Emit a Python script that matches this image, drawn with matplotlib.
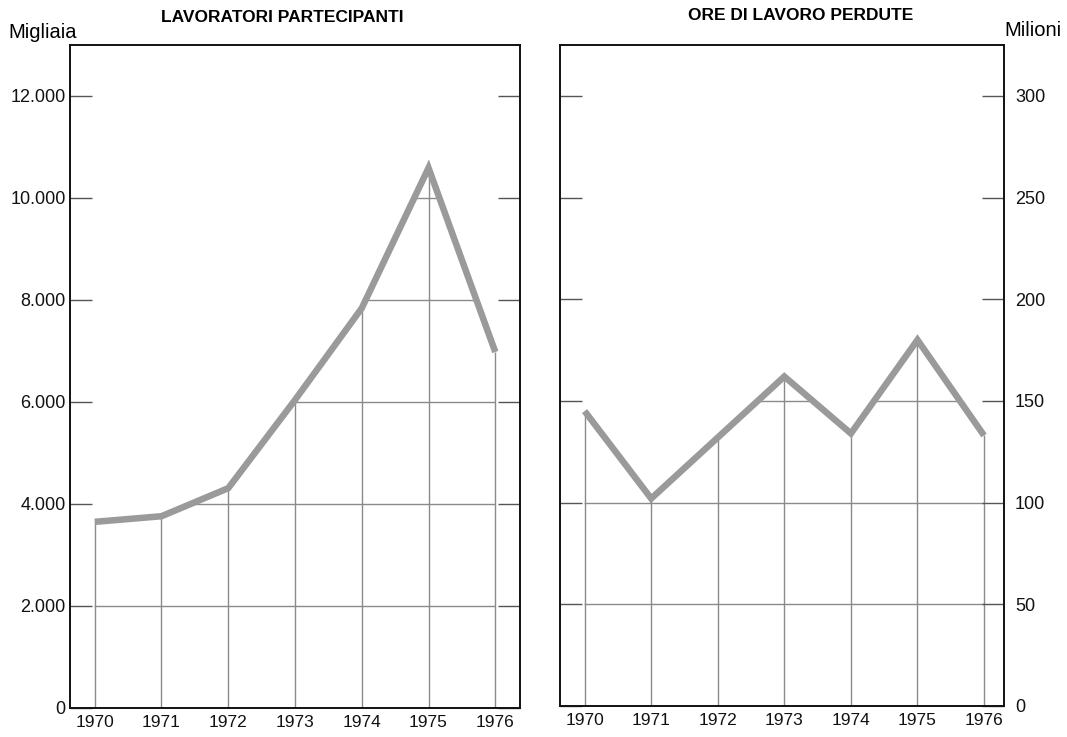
import matplotlib
matplotlib.use("Agg")
import matplotlib.pyplot as plt

plt.rcParams["font.family"] = ["Liberation Sans", "DejaVu Sans"]

years = [1970, 1971, 1972, 1973, 1974, 1975, 1976]

# Lavoratori partecipanti (migliaia)
workers = [3650, 3760, 4310, 6040, 7840, 10590, 6980]
workers_ticks = [0, 2000, 4000, 6000, 8000, 10000, 12000]
workers_labels = ["0", "2.000", "4.000", "6.000", "8.000", "10.000", "12.000"]

# Ore di lavoro perdute (milioni)
hours = [145, 102, 132, 162, 134, 180, 133]
hours_ticks = [0, 50, 100, 150, 200, 250, 300]
hours_labels = ["0", "50", "100", "150", "200", "250", "300"]

fig = plt.figure(figsize=(10.67, 7.37), dpi=100)

ax1 = fig.add_axes([70 / 1067, 1 - 708 / 737, 450 / 1067, 663 / 737])
ax2 = fig.add_axes([560 / 1067, 1 - 706 / 737, 444 / 1067, 661 / 737])

grid_col = "#8a8a8a"
line_col = "#9a9a9a"


def draw_panel(ax, values, ticks, labels, ymax, xlim, side):
    ax.set_xlim(*xlim)
    ax.set_ylim(0, ymax)

    # area under the curve, used only to clip the grid
    poly = ax.fill_between(years, values, 0, color="none", lw=0)

    for t in ticks[1:]:
        hl = ax.axhline(t, color=grid_col, lw=1.0, zorder=1)
        hl.set_clip_path(poly.get_paths()[0], ax.transData)

    ax.vlines(years, 0, values, color=grid_col, lw=1.0, zorder=1)
    ax.plot(years, values, color=line_col, lw=4.7, solid_capstyle="butt",
            solid_joinstyle="miter", zorder=3)

    ax.set_yticks(ticks)
    ax.set_yticklabels(labels)
    ax.set_xticks(years)
    ax.set_xticklabels([str(y) for y in years])
    ax.tick_params(axis="x", length=0, labelsize=12.5, pad=5, colors="#111111")
    ax.tick_params(axis="y", direction="in", length=16, width=1.0,
                   labelsize=13, labelcolor="#111111",
                   pad=3 if side == "left" else 8,
                   left=True, right=True,
                   labelleft=(side == "left"), labelright=(side == "right"))
    ax.tick_params(axis="y", color="#555555")
    for s in ax.spines.values():
        s.set_linewidth(1.4)
        s.set_color("#111111")


draw_panel(ax1, workers, workers_ticks, workers_labels, 13000,
           (1969.63, 1976.37), "left")
draw_panel(ax2, hours, hours_ticks, hours_labels, 325,
           (1969.63, 1976.3), "right")

fig.text(282 / 1067, 1 - 18 / 737, "LAVORATORI PARTECIPANTI", fontsize=12.5,
         fontweight="bold", ha="center", va="center")
fig.text(801 / 1067, 1 - 16 / 737, "ORE DI LAVORO PERDUTE", fontsize=12.5,
         fontweight="bold", ha="center", va="center")

fig.text(8 / 1067, 1 - 33 / 737, "Migliaia", fontsize=14.5, va="center",
         ha="left")
fig.text(1062 / 1067, 1 - 30 / 737, "Milioni", fontsize=14.5, va="center",
         ha="right")

fig.savefig("out.png", dpi=100)
